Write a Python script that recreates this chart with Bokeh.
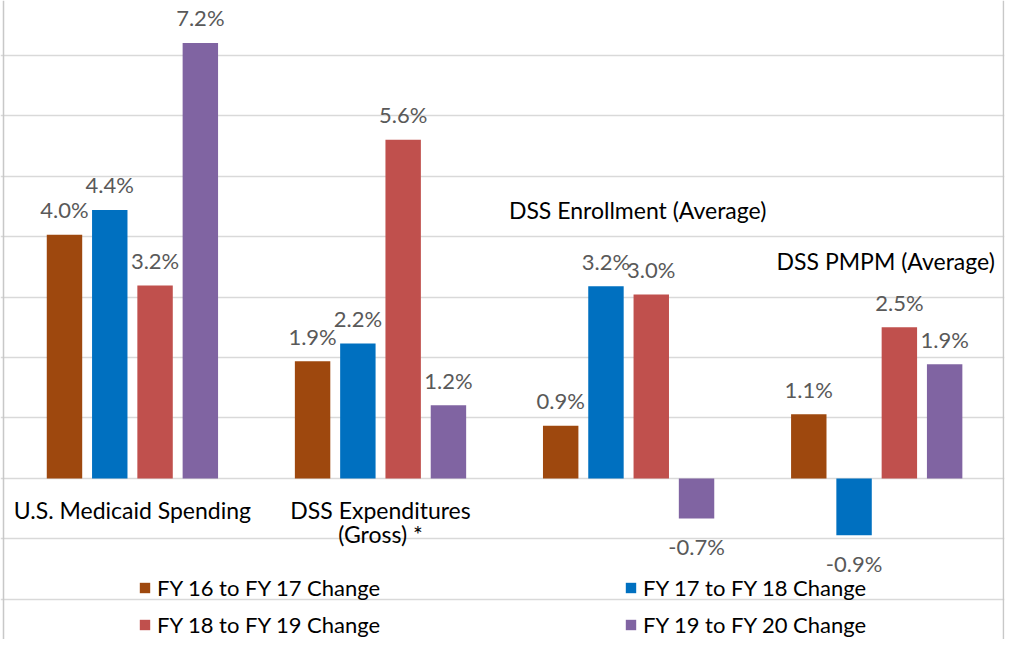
from bokeh.plotting import figure
from bokeh.models import ColumnDataSource, Range1d, FixedTicker, Span, Legend, LegendItem, Grid
from bokeh.transform import dodge
from bokeh.core.properties import value
from bokeh.embed import file_html
from bokeh.resources import INLINE

# ---- data ----
categories = ["U.S. Medicaid Spending", "DSS Expenditures (Gross) *",
              "DSS Enrollment (Average)", "DSS PMPM (Average)"]
series = ["FY 16 to FY 17 Change", "FY 17 to FY 18 Change",
          "FY 18 to FY 19 Change", "FY 19 to FY 20 Change"]
fy16_17 = [4.03, 1.94, 0.87, 1.06]
fy17_18 = [4.44, 2.23, 3.18, -0.94]
fy18_19 = [3.19, 5.60, 3.04, 2.50]
fy19_20 = [7.20, 1.21, -0.66, 1.89]
gridticks = [-2, -1, 0, 1, 2, 3, 4, 5, 6, 7]

# ---- style ----
colors = ["#9E480E", "#0070C0", "#C0504D", "#8064A2"]
FONT = "Lato"
offsets = [-0.2738, -0.0913, 0.0913, 0.2738]
bar_w = 0.1428
X0 = -0.5317
XPX = 248.1  # pixels per category

p = figure(width=1012, height=639, output_backend="svg", toolbar_location=None,
           x_range=Range1d(X0, X0 + 1004 / XPX), y_range=Range1d(-2.662, 7.902),
           x_axis_location=None, y_axis_location=None,
           min_border=0, min_border_right=8, outline_line_color=None)
p.xgrid.visible = False
p.ygrid.visible = False
p.add_layout(Grid(dimension=1, ticker=FixedTicker(ticks=gridticks),
                  grid_line_color="#D9D9D9", grid_line_width=1.5))

idx = list(range(len(categories)))
renderers = []
for name, vals, col, off in zip(series, [fy16_17, fy17_18, fy18_19, fy19_20], colors, offsets):
    src = ColumnDataSource(dict(
        idx=idx, top=vals,
        label=[f"{v:.1f}%" for v in vals],
        yoff=[-25 if v >= 0 else 28 for v in vals],
    ))
    r = p.vbar(x=dodge("idx", off, range=p.x_range), top="top", bottom=0, width=bar_w,
               fill_color=col, line_color=None, source=src)
    p.text(x=dodge("idx", off, range=p.x_range), y="top", text="label", y_offset="yoff",
           source=src, text_align="center", text_baseline="middle",
           text_font=value(FONT), text_font_size="22px", text_color="#595959")
    renderers.append(r)

# category labels (placed as in the original layout)
cat_src = ColumnDataSource(dict(
    x=[0, 1, 1, 2, 3],
    y=[-0.517, -0.517, -0.92, 4.435, 3.596],
    xo=[0, 0, 0, 9, 9],
    t=["U.S. Medicaid Spending", "DSS Expenditures", "(Gross) *",
       "DSS Enrollment (Average)", "DSS PMPM (Average)"],
))
p.text(x="x", y="y", text="t", x_offset="xo", source=cat_src, text_align="center",
       text_baseline="middle", text_font=value(FONT), text_font_size="23px",
       text_color="#000000")

# chart-area side borders
p.add_layout(Span(location=X0 + 3 / XPX, dimension="height", line_color="#C8C8C8", line_width=1.5))
p.add_layout(Span(location=X0 + 1003 / XPX, dimension="height", line_color="#C8C8C8", line_width=1.5))

# legend: row-major order in 2 columns (bokeh fills column-first)
order = [0, 2, 1, 3]
items = [LegendItem(label=series[i], renderers=[renderers[i]]) for i in order]
legend = Legend(items=items, location=(138, 1), ncols=2, glyph_width=13, glyph_height=13,
                label_standoff=6, label_width=457, label_height=13, spacing=10,
                padding=0, margin=0, border_line_color=None, background_fill_alpha=0,
                label_text_font=FONT, label_text_font_size="22px", label_text_color="#000000")
p.add_layout(legend)

open("out.html", "w").write(file_html(p, INLINE))
